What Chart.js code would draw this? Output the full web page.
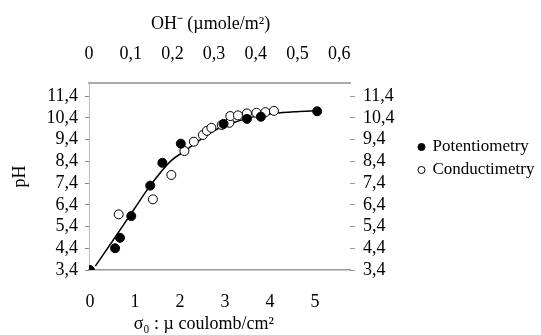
<!DOCTYPE html>
<html>
<head>
<meta charset="utf-8">
<script src="https://cdn.jsdelivr.net/npm/chart.js@4/dist/chart.umd.min.js"></script>
<style>
  html, body { margin: 0; padding: 0; background: #fff; }
  #wrap { width: 541px; height: 335px; }
</style>
</head>
<body>
<div id="wrap"><canvas id="phChart" width="541" height="335"></canvas></div>
<script>
// tick labels
const sigmaTicks = [0, 1, 2, 3, 4, 5];
const ohTicks = [0, 0.1, 0.2, 0.3, 0.4, 0.5, 0.6];
const phTicks = [3.4, 4.4, 5.4, 6.4, 7.4, 8.4, 9.4, 10.4, 11.4];

// Potentiometry (filled)
const sigmaPot = [0, 0.56, 0.67, 0.92, 1.34, 1.61, 2.02, 2.97, 3.49, 3.8, 5.05];
const phPot = [3.4, 4.4, 4.88, 5.88, 7.28, 8.33, 9.21, 10.12, 10.35, 10.45, 10.7];

// Conductimetry (open)
const sigmaCond = [0.64, 1.4, 1.81, 2.1, 2.31, 2.51, 2.6, 2.7, 2.93, 3.1, 3.12, 3.29, 3.49, 3.7, 3.9, 4.09];
const phCond = [5.96, 6.65, 7.77, 8.87, 9.3, 9.61, 9.8, 9.94, 10.07, 10.17, 10.48, 10.51, 10.6, 10.63, 10.66, 10.72];

// fitted curve
const sigmaFit = [0.12, 0.5, 1.0, 1.34, 1.8, 2.1, 2.5, 2.8, 3.2, 3.6, 4.1, 4.6, 5.05];
const phFit = [3.58, 4.72, 6.25, 7.28, 8.42, 8.86, 9.45, 9.85, 10.18, 10.43, 10.6, 10.68, 10.72];

const toXY = (xs, ys) => xs.map((x, i) => ({ x: x, y: ys[i] }));
const comma = (v) => String(Math.round(v * 10) / 10).replace(".", ",");
const family = "'Liberation Serif', 'Times New Roman', serif";
const serif = { family: family, size: 18 };
const nb = (n) => "\u00a0".repeat(n); // titles sit a bit left of centre in the original

Chart.defaults.color = "#000";
Chart.defaults.font.family = family;

new Chart(document.getElementById("phChart"), {
  type: "scatter",
  data: {
    datasets: [
      {
        label: "Potentiometry",
        data: toXY(sigmaPot, phPot),
        backgroundColor: "#000",
        borderColor: "#000",
        pointRadius: 4.5,
        order: 1,
      },
      {
        label: "Conductimetry",
        data: toXY(sigmaCond, phCond),
        backgroundColor: "#fff",
        borderColor: "#000",
        borderWidth: 1,
        pointRadius: 4.5,
        order: 2,
      },
      {
        type: "line",
        label: "fit",
        data: toXY(sigmaFit, phFit),
        borderColor: "#000",
        borderWidth: 1.5,
        pointRadius: 0,
        cubicInterpolationMode: "monotone",
        order: 3,
      },
    ],
  },
  options: {
    responsive: false,
    animation: false,
    plugins: {
      tooltip: { enabled: false },
      legend: {
        position: "right",
        align: "start",
        maxWidth: 128,
        // blank title only pushes the two entries down
        title: { display: true, text: " ", font: { size: 10 }, padding: { top: 120.5, bottom: 0 } },
        labels: {
          usePointStyle: true,
          boxWidth: 5,
          boxHeight: 5,
          padding: 6,
          font: { family: family, size: 17 },
          filter: (item) => item.text !== "fit",
        },
      },
    },
    scales: {
      x: {
        type: "linear",
        position: "bottom",
        min: -0.02,
        max: 5.78,
        afterBuildTicks: (s) => { s.ticks = sigmaTicks.map((v) => ({ value: v })); },
        afterFit: (s) => { s.height = 65; },
        ticks: { font: serif, padding: 21, autoSkip: false, callback: (v) => comma(v) },
        grid: { display: true, drawOnChartArea: false, drawTicks: false },
        border: { color: "#999", width: 1.5 },
        title: {
          display: true,
          text: "σ₀ : µ coulomb/cm²" + nb(7),
          font: serif,
          padding: { top: 0, bottom: 0 },
        },
      },
      x2: {
        type: "linear",
        position: "top",
        min: 0,
        max: 0.626,
        afterBuildTicks: (s) => { s.ticks = ohTicks.map((v) => ({ value: v })); },
        afterFit: (s) => { s.height = 83; },
        ticks: { font: serif, padding: 18, autoSkip: false, callback: (v) => comma(v) },
        grid: { display: true, drawOnChartArea: false, drawTicks: false },
        border: { color: "#aaa", width: 2 },
        title: {
          display: true,
          text: "OH⁻ (µmole/m²)" + nb(4),
          font: serif,
          padding: { top: 13, bottom: 0 },
        },
      },
      y: {
        position: "left",
        min: 3.4,
        max: 12.0,
        afterBuildTicks: (s) => { s.ticks = phTicks.map((v) => ({ value: v })); },
        afterFit: (s) => { s.width = 89; },
        ticks: { font: serif, padding: 7, autoSkip: false, callback: (v) => comma(v) },
        grid: { drawOnChartArea: false, tickLength: 4, color: "#888" },
        border: { color: "#bbb", width: 1, dash: [2, 2] },
        title: { display: true, text: "pH", font: serif, padding: { top: 9, bottom: 0 } },
      },
      y2: {
        position: "right",
        min: 3.4,
        max: 12.0,
        afterBuildTicks: (s) => { s.ticks = phTicks.map((v) => ({ value: v })); },
        afterFit: (s) => { s.width = s.chart.width - 350 - s.chart.legend.width; },
        ticks: { font: serif, padding: 8, autoSkip: false, callback: (v) => comma(v) },
        grid: { drawOnChartArea: false, tickLength: 5, color: "#999" },
        border: { display: false },
      },
    },
  },
});
</script>
</body>
</html>
